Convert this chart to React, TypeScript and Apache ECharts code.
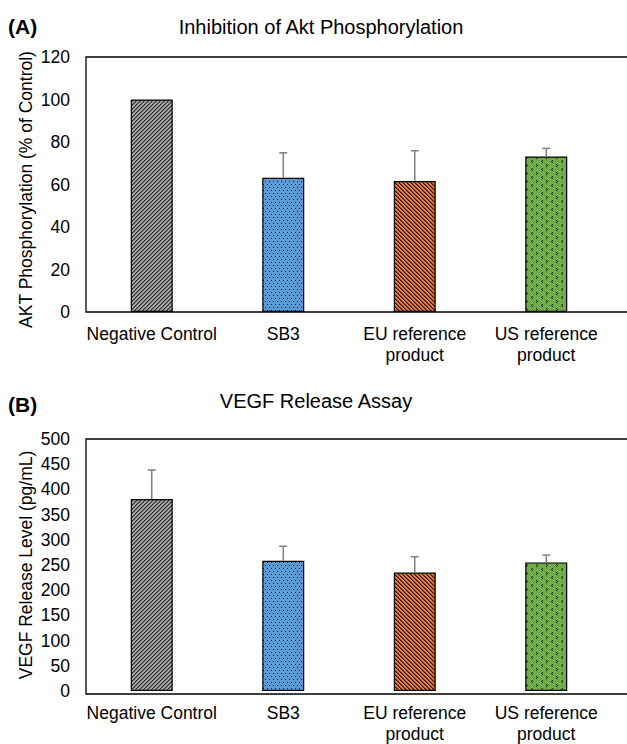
import React, { useEffect, useRef } from "react";
import * as echarts from "echarts";

const categories = ["Negative Control", "SB3", "EU reference product", "US reference product"];
const aktValues = [100, 63.2, 61.6, 73.2];
const aktErrors = [0, 11.7, 14.3, 3.8];
const vegfValues = [381, 258.5, 235, 255.2];
const vegfErrors = [57.5, 28.7, 31.4, 14.4];
const aktTicks = { min: 0, max: 120, interval: 20 };
const vegfTicks = { min: 0, max: 500, interval: 50 };

const FONT = '"Liberation Sans", Arial, sans-serif';

function tile(w: number, h: number, bg: string, fg: string, pts: number[][]) {
  const c = document.createElement("canvas");
  c.width = w;
  c.height = h;
  const ctx = c.getContext("2d")!;
  ctx.fillStyle = bg;
  ctx.fillRect(0, 0, w, h);
  ctx.fillStyle = fg;
  pts.forEach(([x, y, a]) => {
    ctx.globalAlpha = a == null ? 1 : a;
    ctx.fillRect(x, y, 1, 1);
  });
  ctx.globalAlpha = 1;
  return { image: c.toDataURL(), repeat: "repeat", imageWidth: w, imageHeight: h } as any;
}

function makePatterns() {
  const g: number[][] = [];
  for (let y = 0; y < 4; y++)
    for (let x = 0; x < 4; x++) {
      const k = (x + y) % 4;
      if (k === 0) g.push([x, y, 1]);
      if (k === 1) g.push([x, y, 0.45]);
    }
  const gray = tile(4, 4, "#a5a5a5", "#2b2b2b", g);
  const blue = tile(8, 6, "#5b9bd5", "#0a1a2a", [
    [1, 1, 1], [5, 1, 1], [3, 4, 1], [7, 4, 1],
  ]);
  const o: number[][] = [];
  for (let y = 0; y < 4; y++)
    for (let x = 0; x < 4; x++) {
      const k = (((x - y) % 4) + 4) % 4;
      if (k === 0) o.push([x, y, 1]);
      if (k === 1) o.push([x, y, 0.55]);
    }
  const orange = tile(4, 4, "#ed7d31", "#2a1204", o);
  const green = tile(10, 8, "#70ad47", "#10200a", [
    [2, 0, 1], [1, 1, 1], [2, 2, 1],
    [6, 4, 1], [7, 5, 1], [6, 6, 1],
  ]);
  return [gray, blue, orange, green];
}

const GRID_LEFT = 86;
const GRID_W = 526;
const GRID_H = 255;
const TOP_A = 57;
const TOP_B = 439;

export default function App() {
  const ref = useRef<HTMLDivElement>(null);
  useEffect(() => {
    if (!ref.current) return;
    const chart = echarts.init(ref.current, null, { renderer: "svg" });
    const patterns = makePatterns();

    const barData = (vals: number[]) =>
      vals.map((v, i) => ({
        value: v,
        itemStyle: { color: patterns[i], borderColor: "#000", borderWidth: 1.2 },
      }));
    const errData = (vals: number[], errs: number[]) =>
      vals.map((v, i) => [i, v, v + errs[i]]);

    const errRender = (params: any, api: any) => {
      const i = api.value(0);
      const p0 = api.coord([i, api.value(1)]);
      const p1 = api.coord([i, api.value(2)]);
      if (Math.abs(p0[1] - p1[1]) < 0.5) return { type: "group", children: [] };
      const st = { stroke: "#808080", lineWidth: 1.5 };
      return {
        type: "group",
        children: [
          { type: "line", shape: { x1: p0[0], y1: p0[1], x2: p1[0], y2: p1[1] }, style: st },
          { type: "line", shape: { x1: p1[0] - 4, y1: p1[1], x2: p1[0] + 4, y2: p1[1] }, style: st },
        ],
      };
    };

    const xAxisCommon = {
      type: "category",
      data: categories,
      axisLine: { show: false },
      axisTick: { show: false },
      axisLabel: {
        interval: 0,
        margin: 11,
        color: "#000",
        fontFamily: FONT,
        fontSize: 17.5,
        lineHeight: 21,
        formatter: (v: string) => v.replace(" product", "\nproduct"),
      },
    };
    const yAxisCommon = {
      type: "value",
      nameLocation: "middle",
      nameGap: 51,
      nameMoveOverlap: false,
      axisLine: { show: false },
      axisTick: { show: false },
      splitLine: { show: false },
      axisLabel: { color: "#000", fontFamily: FONT, fontSize: 17.5, margin: 16 },
    };
    const nameStyle = { color: "#000", fontFamily: FONT, fontSize: 17.5 };

    const frame = (top: number) => ({
      type: "polyline",
      z: 10,
      shape: {
        points: [
          [640, top],
          [GRID_LEFT, top],
          [GRID_LEFT, top + GRID_H],
          [640, top + GRID_H],
        ],
      },
      style: { stroke: "#000", lineWidth: 1.3, fill: null },
    });
    const txt = (x: number, y: number, text: string, bold: boolean, size: number, align: string) => ({
      type: "text",
      x,
      y,
      style: {
        text,
        fill: "#000",
        font: `${bold ? "bold " : ""}${size}px ${FONT}`,
        textAlign: align,
        textVerticalAlign: "middle",
      },
    });

    chart.setOption({
      animation: false,
      grid: [
        { left: GRID_LEFT, top: TOP_A, width: GRID_W, height: GRID_H },
        { left: GRID_LEFT, top: TOP_B, width: GRID_W, height: GRID_H },
      ],
      xAxis: [
        { ...xAxisCommon, gridIndex: 0 },
        { ...xAxisCommon, gridIndex: 1 },
      ],
      yAxis: [
        {
          ...yAxisCommon,
          gridIndex: 0,
          name: "AKT Phosphorylation (% of Control)",
          nameTextStyle: { ...nameStyle, padding: [0, 10, 0, 0] },
          ...aktTicks,
        },
        {
          ...yAxisCommon,
          gridIndex: 1,
          name: "VEGF Release Level (pg/mL)",
          nameTextStyle: nameStyle,
          ...vegfTicks,
        },
      ],
      graphic: [
        frame(TOP_A),
        frame(TOP_B),
        txt(8, 26, "(A)", true, 21, "left"),
        txt(321, 27, "Inhibition of Akt Phosphorylation", false, 20, "center"),
        txt(8, 404, "(B)", true, 21, "left"),
        txt(316, 401, "VEGF Release Assay", false, 20, "center"),
      ],
      series: [
        {
          type: "bar",
          xAxisIndex: 0,
          yAxisIndex: 0,
          barWidth: 42,
          data: barData(aktValues),
        },
        {
          type: "custom",
          xAxisIndex: 0,
          yAxisIndex: 0,
          renderItem: errRender,
          data: errData(aktValues, aktErrors),
          z: 5,
        },
        {
          type: "bar",
          xAxisIndex: 1,
          yAxisIndex: 1,
          barWidth: 42,
          data: barData(vegfValues),
        },
        {
          type: "custom",
          xAxisIndex: 1,
          yAxisIndex: 1,
          renderItem: errRender,
          data: errData(vegfValues, vegfErrors),
          z: 5,
        },
      ],
    });
    return () => chart.dispose();
  }, []);
  return (
    <div
      ref={ref}
      style={{ position: "fixed", left: 0, top: 0, width: 627, height: 744, background: "#fff" }}
    />
  );
}
